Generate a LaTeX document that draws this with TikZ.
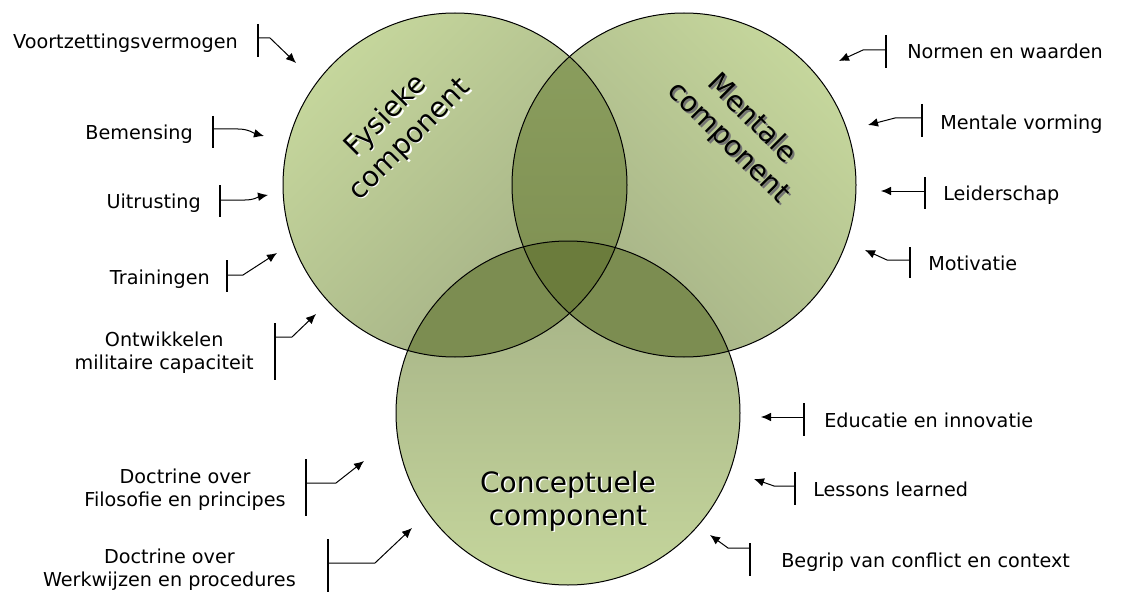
\documentclass[tikz,border=0pt]{standalone}
\usepackage{fontspec}
\setmainfont{DejaVu Sans}
\usetikzlibrary{arrows.meta, positioning}

\definecolor{compLight}{RGB}{197,214,156}
\definecolor{compDark}{RGB}{162,174,132}
\definecolor{lensTop}{RGB}{140,159,95}
\definecolor{lensBot}{RGB}{124,141,80}
\definecolor{lensLow}{RGB}{124,141,81}
\definecolor{lensMid}{RGB}{107,124,60}

\tikzset{
  lbl/.style={font=\fontsize{14.4}{17.3}\selectfont, inner sep=0pt, align=center},
  ctitle/.style={font=\fontsize{21}{25}\selectfont, inner sep=0pt, align=center},
  comp/.style={circle, minimum size=258pt, inner sep=0pt},
  rim/.style={line width=0.75pt},
  bar/.style={line width=0.8pt},
  pointer/.style={line width=0.75pt, -{Latex[length=7.5pt,width=6.5pt]}}
}

\begin{document}
\begin{tikzpicture}[x=0.75pt,y=-0.75pt]
  \useasboundingbox (0,0) rectangle (1122,592);
  % the three components
  \node[comp, top color=compLight, bottom color=compDark, shading angle=45] (fys) at (455,185) {};
  \node[comp, top color=compLight, bottom color=compDark, shading angle=-45] (men) at (684,185) {};
  \node[comp, top color=compDark, bottom color=compLight] (con) at (568,413) {};
  % overlaps
  \begin{scope}
    \clip (fys.center) circle[radius=172];
    \shade[top color=lensTop, bottom color=lensBot] (men.center) circle[radius=172];
    \fill[lensLow] (con.center) circle[radius=172];
  \end{scope}
  \begin{scope}
    \clip (men.center) circle[radius=172];
    \fill[lensLow] (con.center) circle[radius=172];
    \clip (fys.center) circle[radius=172];
    \fill[lensMid] (con.center) circle[radius=172];
  \end{scope}
  % outlines
  \draw[rim] (fys.center) circle[radius=172];
  \draw[rim] (men.center) circle[radius=172];
  \draw[rim] (con.center) circle[radius=172];
  % titles with their shadows
  \node[ctitle, white, rotate=45] (fys-s) at (399.5,129.5) {Fysieke\\component};
  \node[ctitle, rotate=45] (fys-t) at (398,128) {Fysieke\\component};
  \node[ctitle, black!55, rotate=-45] (men-s) at (742,133) {Mentale\\component};
  \node[ctitle, rotate=-45] (men-t) at (740,131) {Mentale\\component};
  \node[ctitle, white] (con-s) at (569.5,502.5) {Conceptuele\\component};
  \node[ctitle] (con-t) at (568,501) {Conceptuele\\component};

  % left callouts
  \node[lbl, anchor=base east] (voort) at (238,49) {Voortzettingsvermogen};
  \coordinate (voort-b) at (258,38);
  \coordinate (voort-p) at (296,63);
  \draw[bar] (258,24) -- (258,57);
  \draw[pointer] (voort-b) -- ++(12,0) -- (voort-p);

  \node[lbl, anchor=base east] (bemen) at (193,140) {Bemensing};
  \coordinate (bemen-b) at (213,129);
  \coordinate (bemen-p) at (264,136);
  \draw[bar] (213,116) -- (213,148);
  \draw[pointer] (bemen-b) -- ++(25,0) to[out=0,in=165] (bemen-p);

  \node[lbl, anchor=base east] (uitrus) at (201,209) {Uitrusting};
  \coordinate (uitrus-b) at (220,200);
  \coordinate (uitrus-p) at (268,195);
  \draw[bar] (220,185) -- (220,217);
  \draw[pointer] (uitrus-b) -- ++(25,0) to[out=0,in=190] (uitrus-p);

  \node[lbl, anchor=base east] (train) at (210,284) {Trainingen};
  \coordinate (train-b) at (227,275);
  \coordinate (train-p) at (277,253);
  \draw[bar] (227,260) -- (227,292);
  \draw[pointer] (train-b) -- ++(16,0) -- (train-p);

  \node[lbl, anchor=east] (ontw) at (254,353) {Ontwikkelen\\militaire capaciteit};
  \coordinate (ontw-b) at (275,337);
  \coordinate (ontw-p) at (316,314);
  \draw[bar] (275,323) -- (275,380);
  \draw[pointer] (ontw-b) -- ++(17,0) -- (ontw-p);

  \node[lbl, anchor=east] (filo) at (286,490) {Doctrine over\\Filosofie en principes};
  \coordinate (filo-b) at (306,483);
  \coordinate (filo-p) at (364,461);
  \draw[bar] (306,459) -- (306,516);
  \draw[pointer] (filo-b) -- ++(30,0) -- (filo-p);

  \node[lbl, anchor=east] (werk) at (296,570) {Doctrine over\\Werkwijzen en procedures};
  \coordinate (werk-b) at (328,563);
  \coordinate (werk-p) at (412,528);
  \draw[bar] (328,539) -- (328,592);
  \draw[pointer] (werk-b) -- ++(47,0) -- (werk-p);

  % right callouts
  \node[lbl, anchor=base west] (normen) at (907,59) {Normen en waarden};
  \coordinate (normen-b) at (886,50);
  \coordinate (normen-p) at (839,61);
  \draw[bar] (886,35) -- (886,68);
  \draw[pointer] (normen-b) -- ++(-23,0) -- (normen-p);

  \node[lbl, anchor=base west] (vorm) at (940,129) {Mentale vorming};
  \coordinate (vorm-b) at (922,118);
  \coordinate (vorm-p) at (868,125);
  \draw[bar] (922,104) -- (922,137);
  \draw[pointer] (vorm-b) -- ++(-27,0) -- (vorm-p);

  \node[lbl, anchor=base west] (leider) at (943,200) {Leiderschap};
  \coordinate (leider-b) at (925,191);
  \coordinate (leider-p) at (881,191);
  \draw[bar] (925,177) -- (925,209);
  \draw[pointer] (leider-b) -- (leider-p);

  \node[lbl, anchor=base west] (motiv) at (928,270) {Motivatie};
  \coordinate (motiv-b) at (910,260);
  \coordinate (motiv-p) at (865,250);
  \draw[bar] (910,247) -- (910,278);
  \draw[pointer] (motiv-b) -- ++(-23,0) -- (motiv-p);

  \node[lbl, anchor=base west] (educ) at (824,427) {Educatie en innovatie};
  \coordinate (educ-b) at (804,417);
  \coordinate (educ-p) at (761,417);
  \draw[bar] (804,403) -- (804,436);
  \draw[pointer] (educ-b) -- (educ-p);

  \node[lbl, anchor=base west] (lessen) at (813,496) {Lessons learned};
  \coordinate (lessen-b) at (795,486);
  \coordinate (lessen-p) at (754,479);
  \draw[bar] (795,472) -- (795,505);
  \draw[pointer] (lessen-b) -- ++(-21,0) -- (lessen-p);

  \node[lbl, anchor=base west] (begrip) at (781,567) {Begrip van conflict en context};
  \coordinate (begrip-b) at (750,548);
  \coordinate (begrip-p) at (710,535);
  \draw[bar] (750,543) -- (750,576);
  \draw[pointer] (begrip-b) -- ++(-22,0) -- (begrip-p);
\end{tikzpicture}
\end{document}
